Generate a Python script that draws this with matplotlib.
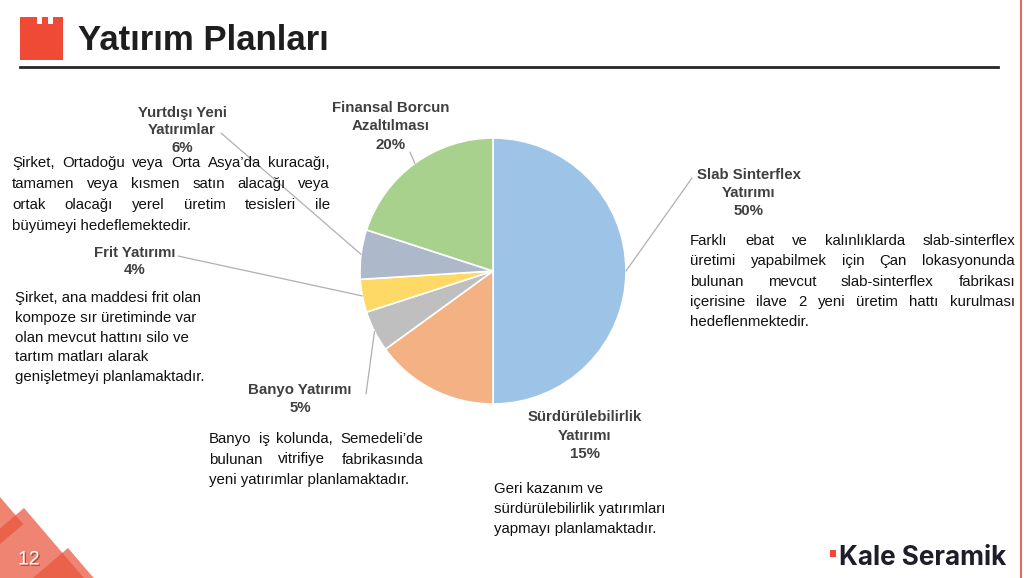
import matplotlib.pyplot as plt
from matplotlib.patches import Polygon, Rectangle
import matplotlib.patheffects as pe
import numpy as np

# data
categories = ["Slab Sinterflex\nYatırımı", "Sürdürülebilirlik\nYatırımı", "Banyo Yatırımı",
              "Frit Yatırımı", "Yurtdışı Yeni\nYatırımlar", "Finansal Borcun\nAzaltılması"]
shares = [50, 15, 5, 4, 6, 20]
colors = ["#9dc3e6", "#f4b183", "#bfbfbf", "#ffd966", "#adb9ca", "#a9d18e"]

desc_slab = ["Farklı ebat ve kalınlıklarda slab-sinterflex",
             "üretimi yapabilmek için Çan lokasyonunda",
             "bulunan mevcut slab-sinterflex fabrikası",
             "içerisine ilave 2 yeni üretim hattı kurulması",
             "hedeflenmektedir."]
desc_surd = ["Geri kazanım ve",
             "sürdürülebilirlik yatırımları",
             "yapmayı planlamaktadır."]
desc_banyo = ["Banyo iş kolunda, Semedeli’de",
              "bulunan vitrifiye fabrikasında",
              "yeni yatırımlar planlamaktadır."]
desc_frit = ["Şirket, ana maddesi frit olan",
             "kompoze sır üretiminde var",
             "olan mevcut hattını silo ve",
             "tartım matları alarak",
             "genişletmeyi planlamaktadır."]
desc_yurt = ["Şirket, Ortadoğu veya Orta Asya’da kuracağı,",
             "tamamen veya kısmen satın alacağı veya",
             "ortak olacağı yerel üretim tesisleri ile",
             "büyümeyi hedeflemektedir."]

W, H = 1024, 578
FONT = "Liberation Sans"
LABEL_C = "#404040"
TEXT_C = "#111111"

fig = plt.figure(figsize=(W / 100, H / 100), dpi=100)
r = fig.canvas.get_renderer()


def fx(x, y):
    return x / W, 1 - y / H


def put(x, y, s, size, weight="normal", color=TEXT_C, ha="left"):
    return fig.text(*fx(x, y), s, fontsize=size, fontweight=weight, color=color,
                    ha=ha, va="center", family=FONT)


def block(lines, x0, x1, y0, step, size=10.8, align="justify", weight="normal", color=TEXT_C):
    for i, line in enumerate(lines):
        y = y0 + i * step
        if align == "center":
            put((x0 + x1) / 2, y, line, size, weight, color, ha="center")
        elif align == "justify" and i < len(lines) - 1:
            words = line.split()
            widths = []
            for w in words:
                t = put(0, 0, w, size, weight, color)
                widths.append(t.get_window_extent(r).width)
                t.remove()
            gap = (x1 - x0 - sum(widths)) / (len(words) - 1)
            x = x0
            for w, wd in zip(words, widths):
                put(x, y, w, size, weight, color)
                x += wd + gap
        else:
            put(x0, y, line, size, weight, color)


# header
icon = Polygon([fx(20, 60), fx(20, 17), fx(37, 17), fx(37, 24), fx(42, 24), fx(42, 17),
                fx(48, 17), fx(48, 24), fx(53, 24), fx(53, 17), fx(63, 17), fx(63, 60)],
               closed=True, transform=fig.transFigure, color="#ee4a35", lw=0)
fig.patches.append(icon)
fig.text(*fx(78, 41), "Yatırım Planları", fontsize=25, fontweight="bold",
         color="#1e1e1e", va="center", family=FONT)
fig.lines.append(plt.Line2D([20 / W, 998 / W], [1 - 67 / H] * 2, transform=fig.transFigure,
                            color="#262626", lw=2))
fig.lines.append(plt.Line2D([1021 / W] * 2, [0, 1], transform=fig.transFigure,
                            color="#e0503f", lw=1.2))

# bottom-left decoration squares
def square(top, side, color, alpha):
    d1 = np.array([0.65, 0.76])
    d2 = np.array([-0.76, 0.65])
    p0 = np.array(top, float)
    pts = [p0, p0 + side * d1, p0 + side * (d1 + d2), p0 + side * d2]
    fig.patches.append(Polygon([fx(*p) for p in pts], closed=True, transform=fig.transFigure,
                               color=color, alpha=alpha, lw=0))

square((24, 508), 110, "#e8553a", 0.72)
square((68, 548), 90, "#e8553a", 0.72)
square((-6, 490), 45, "#e8553a", 0.72)
fig.text(*fx(18, 560), "12", fontsize=14, color="white", va="center", family=FONT,
         path_effects=[pe.withSimplePatchShadow(offset=(1, -1), shadow_rgbFace="#7a2a1a", alpha=0.6)])

# logo
fig.patches.append(Rectangle(fx(830, 557), 6 / W, 7 / H, transform=fig.transFigure,
                             color="#ee4a35", lw=0))
fig.text(*fx(839, 558), "Kale Seramik", fontsize=18.8, fontweight="bold", color="#1e1e2b",
         va="center", family="Inter")

# pie
ax = fig.add_axes([360 / W, 1 - 404 / H, 266 / W, 266 / H])
wedges, _ = ax.pie(shares, colors=colors, startangle=90, counterclock=False,
                   wedgeprops=dict(edgecolor="white", linewidth=1.2))
ax.set_xlim(-1, 1)
ax.set_ylim(-1, 1)
ax.set_aspect("equal")
ax.axis("off")

# label layout: centre x, first line y, line step, leader anchor
label_pos = [(749, 175, 18, (692, 178)),
             (585, 417, 18.5, None),
             (300, 390, 18, (366, 394)),
             (135, 253, 17.5, (178, 256)),
             (182, 113, 17.5, (221, 133)),
             (391, 108, 18.5, (410, 152))]

for w, name, v, (cx, cy, step, anchor) in zip(wedges, categories, shares, label_pos):
    lines = name.split("\n") + [f"{v}%"]
    block(lines, cx, cx, cy, step, size=10.8, align="center", weight="bold", color=LABEL_C)
    if anchor is not None:
        mid = np.deg2rad((w.theta1 + w.theta2) / 2)
        ax.annotate("", xy=(np.cos(mid), np.sin(mid)), xycoords="data",
                    xytext=fx(*anchor), textcoords="figure fraction",
                    arrowprops=dict(arrowstyle="-", color="#b0b0b0", lw=0.9,
                                    shrinkA=0, shrinkB=0), annotation_clip=False)

# descriptions
block(desc_slab, 690, 1015, 241, 20.3)
block(desc_surd, 494, 700, 489, 20, align="left")
block(desc_banyo, 209, 423, 439, 20.5)
block(desc_frit, 15, 300, 298, 19.8, align="left")
block(desc_yurt, 12, 330, 163, 21)

fig.savefig("out.png", dpi=100)
